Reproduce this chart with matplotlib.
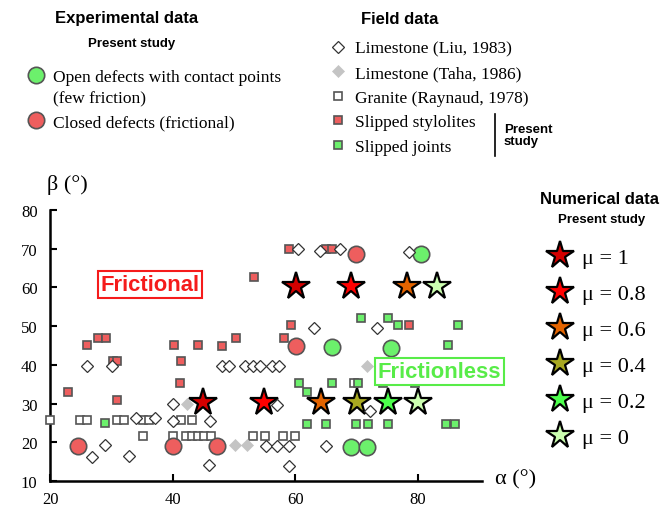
import matplotlib
matplotlib.use("Agg")
import matplotlib.pyplot as plt
from matplotlib.lines import Line2D

plt.rcParams['font.family'] = ['Liberation Serif', 'DejaVu Serif']

# Field data - Limestone (Liu, 1983), open diamonds
liu_x = [26.0, 30.1, 34.1, 37.1, 40.1, 40.1, 46.1, 46.0, 29.0, 26.9, 32.9,
         48.0, 49.2, 51.8, 53.1, 54.3, 56.2, 57.4,
         60.4, 64.0, 67.3, 78.6, 63.1, 73.3, 57.1, 72.2, 55.2, 57.1, 59.0, 65.0, 59.0]
liu_y = [39.6, 39.6, 26.4, 26.4, 29.8, 25.4, 25.4, 14.1, 19.4, 16.3, 16.4,
         39.6, 39.6, 39.6, 39.6, 39.6, 39.6, 39.6,
         70.0, 69.5, 70.0, 69.1, 49.4, 49.6, 29.7, 28.2, 19.0, 19.0, 19.0, 19.1, 14.0]

# Limestone (Taha, 1986), grey diamonds
taha_x = [42.3, 50.2, 52.1, 71.8]
taha_y = [29.8, 19.3, 19.3, 39.6]

# Granite (Raynaud, 1978), open squares
granite_x = [20.0, 24.9, 26.0, 30.9, 32.0, 35.2, 36.1, 41.3, 43.2,
             35.1, 40.1, 42.2, 43.2, 44.2, 45.2, 46.2, 53.2, 55.1, 58.1, 60.0, 69.6]
granite_y = [25.8, 25.8, 25.8, 25.8, 25.8, 25.8, 25.8, 25.8, 25.8,
             21.5, 21.5, 21.5, 21.5, 21.5, 21.5, 21.5, 21.5, 21.5, 21.5, 21.5, 35.2]

# Present study - slipped stylolites (red squares)
stylo_x = [23.0, 26.0, 27.9, 29.1, 30.2, 30.9, 31.0, 40.2, 44.1, 41.4, 41.2,
           48.1, 50.3, 58.2, 59.4, 53.3, 59.0, 65.1, 66.0, 78.6]
stylo_y = [33.0, 45.0, 47.0, 47.0, 41.0, 41.0, 30.9, 45.0, 45.0, 41.0, 35.2,
           44.8, 47.0, 47.0, 50.4, 62.8, 70.0, 70.0, 70.0, 50.2]

# Present study - slipped joints (green squares)
joint_x = [28.9, 60.7, 62.0, 66.0, 70.3, 74.3, 79.6, 62.0, 65.0, 70.0, 71.9,
           75.2, 84.7, 86.1, 70.8, 75.2, 76.8, 86.6, 84.9]
joint_y = [25.0, 35.2, 33.0, 35.2, 35.2, 35.2, 35.2, 24.8, 24.8, 24.8, 24.8,
           24.8, 24.8, 24.8, 52.1, 52.1, 50.2, 50.2, 45.0]

# Experimental data
closed_x = [24.5, 40.1, 47.3, 60.1, 70.0]
closed_y = [19.1, 19.1, 19.1, 44.8, 68.7]
open_x = [66.0, 75.6, 80.5, 69.1, 71.7]
open_y = [44.6, 44.4, 68.7, 18.8, 18.8]

# Numerical data, one list of points per friction coefficient
mu_labels = ['μ = 1', 'μ = 0.8', 'μ = 0.6', 'μ = 0.4', 'μ = 0.2', 'μ = 0']
mu_colors = ['#d40000', '#ff0000', '#e46400', '#a8a820', '#4cff4c', '#ccffb0']
mu_x = [[44.9, 60.1], [54.9, 69.1], [64.2, 78.3], [70.1], [75.2], [80.1, 83.2]]
mu_y = [[30.3, 60.3], [30.3, 60.3], [30.3, 60.3], [30.3], [30.3], [30.3, 60.3]]

RED = '#ee5e5e'
GREEN = '#6cf06c'

fig = plt.figure(figsize=(6.66, 5.10), dpi=100)
ax = fig.add_axes([0.0751, 0.0549, 0.6486, 0.5314])

# stars first so the field points sit on top of them
star_handles = []
for xs, ys, c, lab in zip(mu_x, mu_y, mu_colors, mu_labels):
    h, = ax.plot(xs, ys, ls='none', marker='*', ms=20.5, mfc=c, mec='black',
                 mew=1.6, zorder=2, label=lab, clip_on=False)
    star_handles.append(h)

h_granite, = ax.plot(granite_x, granite_y, ls='none', marker='s', ms=6.4,
                     mfc='white', mec='#555555', mew=1.2, zorder=3, clip_on=False)
h_liu, = ax.plot(liu_x, liu_y, ls='none', marker='D', ms=6.6,
                 mfc='white', mec='#333333', mew=0.9, zorder=4, clip_on=False)
h_taha, = ax.plot(taha_x, taha_y, ls='none', marker='D', ms=6.6,
                  mfc='#c4c4c4', mec='#c4c4c4', mew=0.5, zorder=4, clip_on=False)
h_stylo, = ax.plot(stylo_x, stylo_y, ls='none', marker='s', ms=6.4,
                   mfc=RED, mec='#555555', mew=1.2, zorder=3, clip_on=False)
h_joint, = ax.plot(joint_x, joint_y, ls='none', marker='s', ms=6.4,
                   mfc=GREEN, mec='#555555', mew=1.2, zorder=3, clip_on=False)
h_closed, = ax.plot(closed_x, closed_y, ls='none', marker='o', ms=11.8,
                    mfc=RED, mec='#555555', mew=1.2, zorder=3, clip_on=False)
h_open, = ax.plot(open_x, open_y, ls='none', marker='o', ms=11.8,
                  mfc=GREEN, mec='#555555', mew=1.2, zorder=3, clip_on=False)

ax.set_xlim(20, 90.5)
ax.set_ylim(10, 80)
ax.set_xticks([20, 40, 60, 80])
ax.set_yticks(range(10, 81, 10))
for s in ['top', 'right']:
    ax.spines[s].set_visible(False)
for s in ['left', 'bottom']:
    ax.spines[s].set_linewidth(1.8)
ax.tick_params(direction='in', length=5, width=1.5, labelsize=12, pad=9)
ax.tick_params(axis='x', pad=7)

# region labels
ax.text(36.3, 60.7, 'Frictional', family='Liberation Sans', weight='bold',
        fontsize=15.8, color='#f51b1b', ha='center', va='center', zorder=6,
        bbox=dict(boxstyle='square,pad=0.13', fc='white', ec='#f51b1b', lw=1.5))
ax.text(83.6, 38.2, 'Frictionless', family='Liberation Sans', weight='bold',
        fontsize=15.8, color='#58ec48', ha='center', va='center', zorder=6,
        bbox=dict(boxstyle='square,pad=0.13', fc='white', ec='#58ec48', lw=1.5))

# axis labels
fig.text(67 / 666, 1 - 185 / 510, 'β (°)', fontsize=16, ha='center', va='center')
fig.text(516 / 666, 1 - 480 / 510, 'α (°)', fontsize=16, ha='center', va='center')

# Experimental data legend
fig.text(127 / 666, 1 - 19 / 510, 'Experimental data', family='Liberation Sans',
         weight='bold', fontsize=12, ha='center', va='center')
fig.text(132 / 666, 1 - 44 / 510, 'Present study', family='Liberation Sans',
         weight='bold', fontsize=9.5, ha='center', va='center')
leg1 = fig.legend([h_open, h_closed],
                  ['Open defects with contact points', 'Closed defects (frictional)'],
                  loc='upper left', bbox_to_anchor=(27.3 / 666, 1 - 69.5 / 510),
                  frameon=False, fontsize=12.5, handlelength=1.0, handletextpad=0.48,
                  labelspacing=1.68, borderpad=0, borderaxespad=0)
fig.text(53 / 666, 1 - 99 / 510, '(few friction)', fontsize=12.5, ha='left', va='center')

# Field data legend
fig.text(400 / 666, 1 - 20 / 510, 'Field data', family='Liberation Sans',
         weight='bold', fontsize=12, ha='center', va='center')
leg2 = fig.legend([h_liu, h_taha, h_granite, h_stylo, h_joint],
                  ['Limestone (Liu, 1983)', 'Limestone (Taha, 1986)',
                   'Granite (Raynaud, 1978)', 'Slipped stylolites', 'Slipped joints'],
                  loc='upper left', bbox_to_anchor=(329.3 / 666, 1 - 41.5 / 510),
                  frameon=False, fontsize=12.5, handlelength=1.0, handletextpad=0.48,
                  labelspacing=0.48, borderpad=0, borderaxespad=0)
fig.add_artist(Line2D([495 / 666, 495 / 666], [1 - 115 / 510, 1 - 157 / 510],
                      color='black', lw=1.2, transform=fig.transFigure))
fig.text(504 / 666, 1 - 136 / 510, 'Present\nstudy', family='Liberation Sans',
         weight='bold', fontsize=9.5, ha='left', va='center', linespacing=0.95)

# Numerical data legend
fig.text(600 / 666, 1 - 200 / 510, 'Numerical data', family='Liberation Sans',
         weight='bold', fontsize=12, ha='center', va='center')
fig.text(602 / 666, 1 - 220 / 510, 'Present study', family='Liberation Sans',
         weight='bold', fontsize=9.5, ha='center', va='center')
leg3 = fig.legend(star_handles, mu_labels,
                  loc='upper left', bbox_to_anchor=(548.9 / 666, 1 - 248.7 / 510),
                  frameon=False, fontsize=16, handlelength=1.0, handletextpad=0.49,
                  labelspacing=0.69, borderpad=0, borderaxespad=0, markerscale=1.0)

fig.savefig('out.png', dpi=100)
